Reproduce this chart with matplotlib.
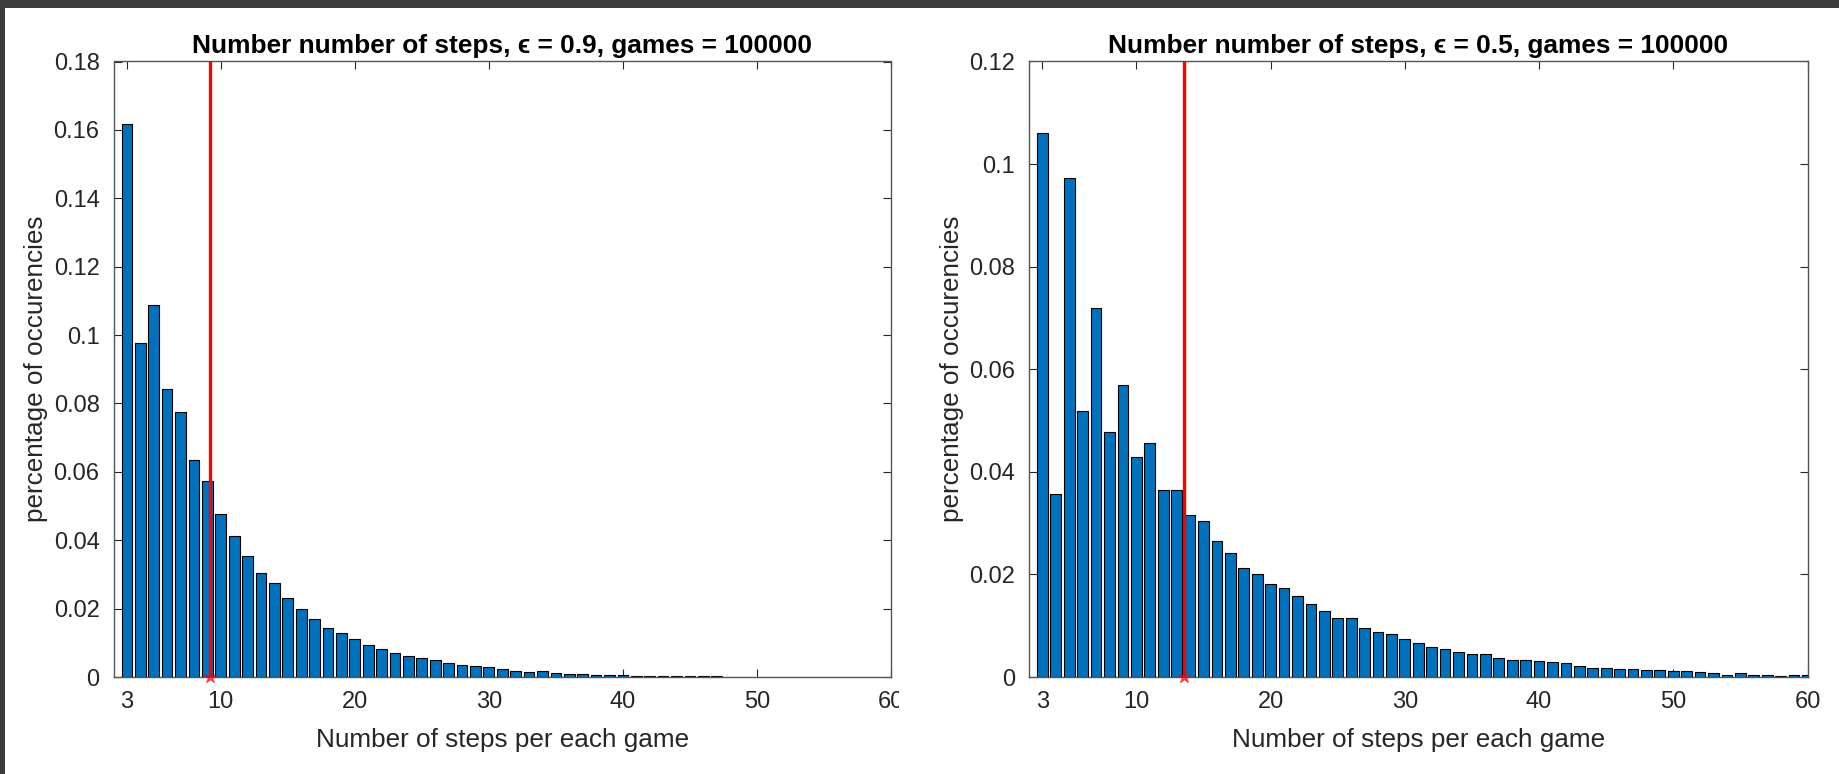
import matplotlib
matplotlib.use("Agg")
import matplotlib.pyplot as plt
from matplotlib.patches import Rectangle
from matplotlib.transforms import Bbox
import numpy as np

plt.rcParams['font.family'] = ['Liberation Sans', 'DejaVu Sans']

# ---------------- data ----------------
steps_left = list(range(3, 48))
pct_left = [0.1618, 0.0977, 0.1089, 0.0841, 0.0776, 0.0636, 0.0573, 0.0476, 0.0413,
            0.0353, 0.0305, 0.0276, 0.0231, 0.0199, 0.0171, 0.0144, 0.0128, 0.0110,
            0.0094, 0.0081, 0.0071, 0.0062, 0.0056, 0.0049, 0.0040, 0.0036, 0.0033,
            0.0028, 0.0023, 0.0018, 0.0014, 0.0017, 0.0013, 0.0010, 0.0010, 0.0007,
            0.0007, 0.0007, 0.0004, 0.0003, 0.0003, 0.0003, 0.0003, 0.0002, 0.0002]

steps_right = list(range(3, 61))
pct_right = [0.1060, 0.0357, 0.0972, 0.0519, 0.0719, 0.0477, 0.0570, 0.0429, 0.0457,
             0.0364, 0.0364, 0.0315, 0.0304, 0.0266, 0.0242, 0.0212, 0.0200, 0.0181,
             0.0174, 0.0157, 0.0143, 0.0128, 0.0115, 0.0115, 0.0096, 0.0087, 0.0083,
             0.0074, 0.0066, 0.0059, 0.0055, 0.0049, 0.0045, 0.0045, 0.0037, 0.0034,
             0.0034, 0.0032, 0.0029, 0.0028, 0.0021, 0.0018, 0.0018, 0.0016, 0.0016,
             0.0013, 0.0013, 0.0011, 0.0011, 0.0009, 0.0007, 0.0004, 0.0007, 0.0004,
             0.0004, 0.0002, 0.0004, 0.0003]

mean_steps = [9.19, 13.53]
epsilons = ["0.9", "0.5"]
games = 100000
ylims = [0.18, 0.12]
yticks_list = [np.arange(0, 0.181, 0.02), np.arange(0, 0.121, 0.02)]
ytick_labels_list = [["0", "0.02", "0.04", "0.06", "0.08", "0.1", "0.12", "0.14", "0.16", "0.18"],
                     ["0", "0.02", "0.04", "0.06", "0.08", "0.1", "0.12"]]
xticks = [3, 10, 20, 30, 40, 50, 60]
xlabel = "Number of steps per each game"
ylabel = "percentage of occurencies"

# ---------------- figure ----------------
W, H = 1839, 774
fig = plt.figure(figsize=(W / 100, H / 100), dpi=100, facecolor='white')

# dark screenshot border (top & left)
fig.patches.append(Rectangle((0, 1 - 8 / H), 1, 8 / H, transform=fig.transFigure,
                             facecolor='#3c3c3c', edgecolor='none', zorder=-5))
fig.patches.append(Rectangle((0, 0), 5 / W, 1, transform=fig.transFigure,
                             facecolor='#3c3c3c', edgecolor='none', zorder=-5))

positions = [[113.5 / W, 1 - 677 / H, (891 - 113.5) / W, (677 - 61.5) / H],
             [1029 / W, 1 - 677 / H, (1807.5 - 1029) / W, (677 - 61.5) / H]]

datasets = [(steps_left, pct_left), (steps_right, pct_right)]
axcol = '#262626'

for i in range(2):
    ax = fig.add_axes(positions[i])
    xs, ys = datasets[i]
    ax.bar(xs, ys, width=0.8, color='#0072BD', edgecolor='black', linewidth=0.8, zorder=2)
    ax.plot([mean_steps[i], mean_steps[i]], [0, ylims[i]], color='red', linewidth=2.4, zorder=3)
    ax.plot([mean_steps[i]], [0], marker='*', color='red', markersize=9, linestyle='none',
            zorder=4, clip_on=False, alpha=0.6)
    ax.set_xlim(2, 60)
    ax.set_ylim(0, ylims[i])
    ax.set_xticks(xticks)
    ax.set_xticklabels([str(t) for t in xticks])
    ax.set_yticks(yticks_list[i])
    ax.set_yticklabels(ytick_labels_list[i])
    ax.tick_params(direction='in', length=6, width=0.8, color=axcol, labelcolor=axcol,
                   labelsize=17, top=True, right=True, pad=10)
    for s in ax.spines.values():
        s.set_color('#555555')
        s.set_linewidth(1.0)
    ax.set_xlabel(xlabel, fontsize=18.8, color=axcol, labelpad=11)
    ax.set_ylabel(ylabel, fontsize=18.8, color=axcol, labelpad=4)
    ax.set_title('Number number of steps, \u03f5 = ' + epsilons[i] + ', games = ' + str(games),
                 fontsize=18.9, fontweight='bold', color='black', pad=6)

    if i == 0:
        fig.canvas.draw()
        lbls = ax.get_xticklabels()
        last = lbls[-1]
        last.set_clip_on(True)
        last.set_clip_box(Bbox.from_extents(0, 0, 899, H))

fig.savefig('out.png', dpi=100, facecolor='white')
